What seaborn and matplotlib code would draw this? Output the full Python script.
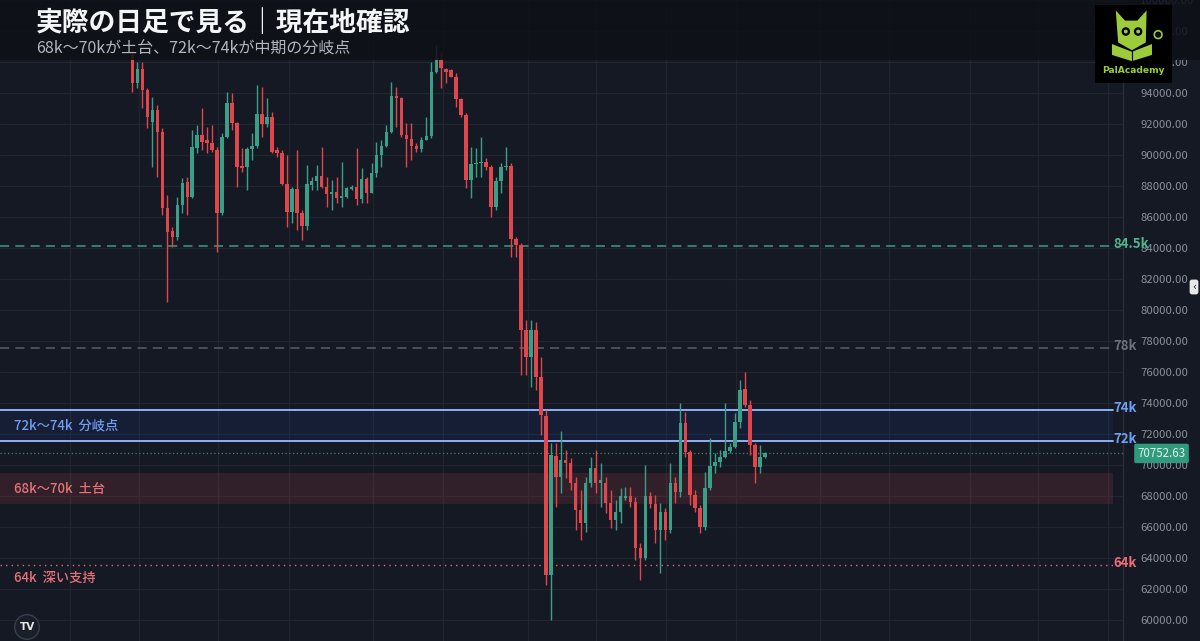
import numpy as np
import pandas as pd
import matplotlib
matplotlib.use("Agg")
import matplotlib.pyplot as plt
import seaborn as sns
from matplotlib.patches import Rectangle, Polygon, Circle
from matplotlib.transforms import blended_transform_factory

# ---------------- data ----------------
opens = [96452, 94646, 95549, 94195, 92131, 92905, 91486, 86584, 85100, 84713,
         86777, 88261, 87293, 90454, 91292, 90970, 90776, 90325, 86261, 91163,
         93356, 92066, 89293, 89228, 90389, 90583, 92647, 92002, 92453, 90325,
         90131, 88132, 86326, 87809, 86261, 85423, 88067, 88325, 88648, 87938,
         87487, 87616, 87229, 87293, 87809, 87938, 87164, 88455, 87551, 88841,
         90002, 90583, 91486, 93808, 93679, 91292, 91034, 90583, 90389, 90970,
         91228, 95356, 96130, 95549, 95485, 95033, 93614, 92582, 88390, 89422,
         89487, 89551, 89228, 86648, 88325, 89228, 89293, 84584, 84197, 78715,
         76973, 78715, 75683, 73168, 62912, 70588, 69233, 70330, 70136, 68846,
         67105, 66267, 68846, 69814, 68846, 68846, 67556, 66460, 66976, 67879,
         68008, 67621, 64654, 64009, 68008, 67492, 65815, 66976, 65815, 68846,
         68266, 72716, 70846, 68072, 67234, 66009, 68524, 69943, 70201, 70523,
         70910, 71168, 72781, 74910, 73878, 71297, 69878, 70523]
highs = [96775, 96001, 96001, 94324, 93743, 93227, 91744, 87422, 85358, 87293,
         88519, 88583, 91615, 91937, 93034, 91809, 91937, 90518, 91421, 94066,
         94002, 92131, 90454, 90518, 91421, 94517, 94388, 93679, 92776, 90518,
         90325, 90002, 87938, 90325, 86455, 89357, 88583, 89357, 90518, 88583,
         88390, 88583, 89551, 87938, 88067, 90454, 89164, 88583, 89487, 90841,
         90970, 91937, 94711, 94388, 93743, 92066, 92066, 90776, 91163, 92453,
         96001, 97097, 96646, 95614, 95549, 95292, 93679, 92711, 90518, 90454,
         91163, 89809, 89357, 88583, 89487, 90518, 89487, 84713, 84326, 79360,
         79360, 79231, 76973, 73555, 71426, 71426, 72200, 70975, 70459, 69233,
         68395, 69233, 70523, 70975, 70136, 69233, 68395, 67750, 68524, 68588,
         68588, 67943, 64976, 70007, 68266, 68072, 67556, 67234, 70136, 69233,
         74006, 73426, 70975, 68395, 67427, 69556, 71749, 70781, 70975, 74006,
         71426, 73361, 75490, 76006, 74200, 71426, 71297, 70846]
lows = [94066, 94324, 93034, 91744, 89228, 88583, 86132, 80521, 84068, 84520,
        86261, 86132, 87229, 90131, 90325, 90131, 90196, 83746, 86132, 91099,
        91615, 87938, 88906, 87745, 89680, 90454, 91163, 91809, 90131, 89873,
        88067, 85358, 85617, 85165, 84520, 85165, 87745, 87745, 87874, 86648,
        86455, 86906, 86648, 87229, 87745, 86777, 86906, 86906, 87551, 88583,
        89228, 90518, 91421, 91809, 91163, 89228, 89680, 90196, 90196, 90970,
        91099, 95292, 94324, 94646, 95033, 93098, 92453, 87874, 87229, 88583,
        88583, 89035, 86003, 86455, 87551, 89035, 83424, 83424, 75812, 75812,
        75038, 74845, 71942, 62268, 60010, 67298, 68201, 69169, 68395, 65815,
        65170, 65686, 68588, 68201, 67298, 66911, 65944, 65815, 66267, 67750,
        67298, 63880, 62590, 63880, 67234, 64976, 63042, 65170, 65622, 67556,
        67943, 70523, 67427, 66976, 65622, 65815, 68395, 69491, 69878, 70459,
        70781, 71104, 72394, 73749, 70652, 68846, 69491, 70459]
closes = [94646, 95549, 94195, 92453, 92905, 91486, 86584, 85036, 84713, 86777,
          88196, 87293, 90518, 91292, 90841, 90776, 90325, 86261, 91163, 93356,
          92066, 89228, 89164, 90389, 90583, 92647, 92002, 92453, 90196, 90131,
          88132, 86326, 87809, 86261, 85423, 88132, 88325, 88648, 87938, 87487,
          87616, 87229, 87358, 87874, 87938, 87164, 88455, 87551, 88841, 90002,
          90583, 91486, 93808, 93679, 91292, 91034, 90583, 90389, 90970, 91228,
          95356, 96259, 95614, 95356, 95033, 93614, 92582, 88390, 89422, 89487,
          89551, 89228, 86648, 88325, 89228, 89293, 84584, 84197, 78715, 76973,
          78715, 75683, 73232, 62912, 70652, 69233, 70330, 70136, 68846, 67105,
          66267, 68846, 69814, 68846, 69040, 67556, 66460, 66976, 68008, 68008,
          67621, 64654, 64009, 68008, 67492, 65815, 66976, 65815, 68846, 68266,
          72716, 70846, 68072, 67234, 66009, 68524, 69943, 70201, 70523, 70910,
          71168, 72781, 74845, 73878, 71297, 69878, 70523, 70752.63]

price_ticks = list(range(60000, 100001, 2000))
grid_days = [-12.6, 1.3, 17.2, 31.4, 48.3, 62.3, 79.4, 93.1, 107.1, 121.2,
             138.1, 151.9, 168.2, 181.8, 195.9]

last_price = 70752.63
level_845 = 84150
level_78 = 77550
zone_mid_top = 73550
zone_mid_bot = 71550
zone_base_top = 69490
zone_base_bot = 67490
level_64 = 63550

title = "実際の日足で見る｜現在地確認"
subtitle = "68k〜70kが土台、72k〜74kが中期の分岐点"
right_labels = ["84.5k", "78k", "74k", "72k", "64k"]
left_labels = ["72k〜74k  分岐点", "68k〜70k  土台", "64k  深い支持"]

# ---------------- style ----------------
BG = "#151924"
GRID = "#212530"
UP = "#3b9e86"
DOWN = "#e0464c"
sns.set_theme(style="dark", rc={"axes.facecolor": BG, "figure.facecolor": BG})
plt.rcParams["font.family"] = ["Noto Sans CJK JP", "DejaVu Sans"]

df = pd.DataFrame({"open": opens, "high": highs, "low": lows, "close": closes})
df["day"] = np.arange(len(df))
df["up"] = df["close"] >= df["open"]

W, H = 1200, 641
fig = plt.figure(figsize=(W / 100, H / 100), dpi=100)
ax = fig.add_axes([0, 0, 1123 / W, 1])
ax.set_facecolor(BG)

# grid
for v in price_ticks:
    ax.axhline(v, color=GRID, lw=0.9, zorder=0)
for d in grid_days:
    ax.axvline(d, color=GRID, lw=0.9, zorder=0)

# zones
xr = 1113 / 1123
ax.axhspan(zone_mid_bot, zone_mid_top, xmin=0, xmax=xr, color="#2962ff", alpha=0.08, lw=0, zorder=1)
ax.axhspan(zone_base_bot, zone_base_top, xmin=0, xmax=xr, color="#ef5350", alpha=0.13, lw=0, zorder=1)

# level lines
ax.axhline(level_845, xmin=0, xmax=1110 / 1123, color="#3f9c7a", lw=1.1, ls=(0, (6, 4)), zorder=2)
ax.axhline(level_78, xmin=0, xmax=1110 / 1123, color="#5a5e6b", lw=1.1, ls=(0, (6, 4)), zorder=2)
ax.axhline(zone_mid_top, xmin=0, xmax=xr, color="#8cb0f8", lw=1.4, zorder=2)
ax.axhline(zone_mid_bot, xmin=0, xmax=xr, color="#8cb0f8", lw=1.4, zorder=2)
ax.axhline(level_64, xmin=0, xmax=xr, color="#d86a72", lw=1.0, ls=(0, (1, 3)), zorder=2)
ax.axhline(last_price, xmin=0, xmax=1, color="#4c7b6e", lw=0.9, ls=(0, (1, 2)), zorder=2)

# candles
body_w = 0.7
for up, col in [(True, UP), (False, DOWN)]:
    sub = df[df["up"] == up]
    ax.vlines(sub["day"], sub["low"], sub["high"], color=col, lw=1.0, zorder=3)
    bottoms = np.minimum(sub["open"], sub["close"])
    heights = np.maximum(np.abs(sub["close"] - sub["open"]), 60)
    ax.bar(sub["day"], heights, bottom=bottoms, width=body_w, color=col, lw=0, zorder=4)

ax.set_xlim(-26.6, 198.9)
ax.set_ylim(58655, 100000)
ax.set_xticks([])
ax.yaxis.tick_right()
ax.set_yticks(price_ticks)
ax.set_yticklabels([f"{v:.2f}" for v in price_ticks])
ax.tick_params(axis="y", length=0, pad=12.5, labelsize=8.2, labelcolor="#8b8f9a")
for s in ["top", "bottom", "left"]:
    ax.spines[s].set_visible(False)
ax.spines["right"].set_color("#2a2e39")
ax.spines["right"].set_linewidth(1)
ax.grid(False)

# labels on the right
tr = blended_transform_factory(ax.transAxes, ax.transData)
rl_y = [level_845, level_78, zone_mid_top, zone_mid_bot, level_64]
rl_c = ["#4fb48c", "#6c707c", "#6f9ff2", "#6f9ff2", "#ee6f77"]
for txt, yv, c in zip(right_labels, rl_y, rl_c):
    ax.text(1113 / 1123, yv + 120, txt, transform=tr, ha="left", va="center",
            fontsize=9.5, fontweight="bold", color=c, clip_on=False, zorder=6)

# labels on the left
ll_y = [(zone_mid_top + zone_mid_bot) / 2, (zone_base_top + zone_base_bot) / 2, level_64 - 830]
ll_c = ["#6f9ff2", "#e8727a", "#e8727a"]
for txt, yv, c in zip(left_labels, ll_y, ll_c):
    ax.text(14 / 1123, yv, txt, transform=tr, ha="left", va="center",
            fontsize=9.5, fontweight="medium", color=c, zorder=6)

# current price tag
trf = blended_transform_factory(fig.transFigure, ax.transData)
fig.text(1161.5 / W, last_price, f"{last_price:.2f}", transform=trf, ha="center", va="center",
         fontsize=8.3, color="#dff3ec", zorder=10,
         bbox=dict(boxstyle="round,pad=0.28,rounding_size=0.15", fc="#2f9b7c", ec="none"))

# title band
fig.patches.append(Rectangle((0, 1 - 60 / H), 1, 60 / H, transform=fig.transFigure,
                             facecolor="#0e1016", edgecolor="none", lw=0, alpha=0.86, zorder=8))
fig.text(36 / W, 1 - 23 / H, title, fontsize=19.3, fontweight="bold", color="#f4f5f7",
         ha="left", va="center", zorder=9)
fig.text(36 / W, 1 - 49 / H, subtitle, fontsize=11.5, color="#b3b6bf",
         ha="left", va="center", zorder=9)

# logo (top right)
lax = fig.add_axes([1095 / W, 1 - 83 / H, 77 / W, 78 / H], zorder=12)
lax.set_facecolor("black")
lax.set_xlim(0, 1)
lax.set_ylim(0, 1)
lax.set_xticks([])
lax.set_yticks([])
for s in lax.spines.values():
    s.set_visible(False)
G = "#9ccb3b"
lax.add_patch(Polygon([(0.3, 0.52), (0.27, 0.93), (0.39, 0.8), (0.55, 0.8), (0.67, 0.93),
                       (0.66, 0.52), (0.48, 0.42)], closed=True, fc=G, ec="none"))
lax.add_patch(Polygon([(0.22, 0.5), (0.48, 0.4), (0.74, 0.5), (0.74, 0.36), (0.48, 0.28), (0.22, 0.36)],
                      closed=True, fc=G, ec="none"))
lax.plot([0.48, 0.48], [0.28, 0.42], color="black", lw=0.8)
for ex in (0.4, 0.56):
    lax.add_patch(Circle((ex, 0.66), 0.055, fc="black", ec="none"))
    lax.add_patch(Circle((ex, 0.66), 0.025, fc=G, ec="none"))
lax.add_patch(Circle((0.82, 0.62), 0.05, fc="none", ec=G, lw=1.2))
lax.text(0.5, 0.16, "PalAcademy", ha="center", va="center", fontsize=6.6,
         fontweight="bold", color=G, family=["DejaVu Sans"])

# TradingView mark & side handle
fig.text(27 / W, 1 - 627 / H, "TV", ha="center", va="center", fontsize=7.5, fontweight="bold",
         color="#e6e6e6", family=["DejaVu Sans"], zorder=9,
         bbox=dict(boxstyle="circle,pad=0.45", fc="#1a1e29", ec="#3a3e4a", lw=1))
fig.text(1194 / W, 1 - 287 / H, "‹", ha="center", va="center", fontsize=7, color="#222",
         family=["DejaVu Sans"], zorder=9,
         bbox=dict(boxstyle="round,pad=0.25", fc="#e9e9ec", ec="none"))

fig.savefig("out.png", dpi=100, facecolor=BG)
